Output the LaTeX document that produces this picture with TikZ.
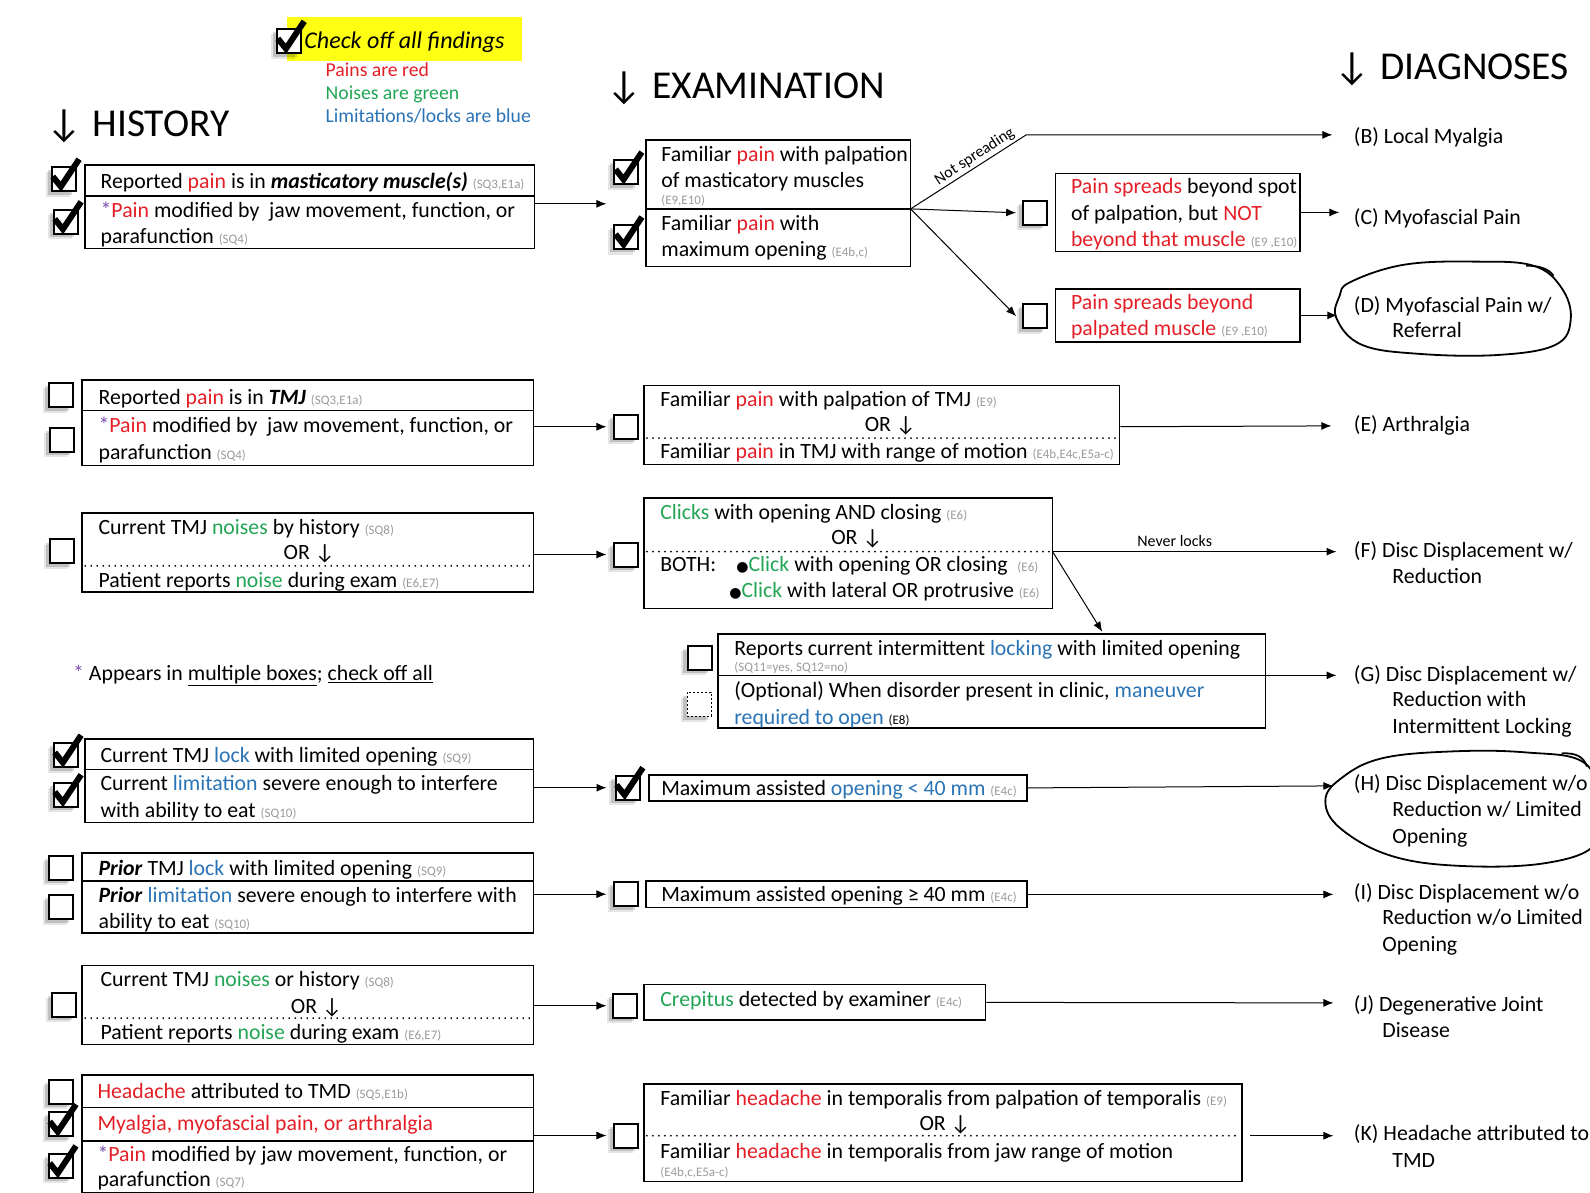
\documentclass[tikz,border=0pt]{standalone}
\usepackage{fontspec}
\setmainfont{Carlito}
\newfontfamily\dvf{DejaVu Sans}
\usetikzlibrary{arrows.meta,fit,calc}
\definecolor{pr}{HTML}{E41E26}
\definecolor{gn}{HTML}{22A455}
\definecolor{lb}{HTML}{2A73B5}
\definecolor{pu}{HTML}{7B4FB0}
\definecolor{tg}{HTML}{9A9A9A}
\definecolor{yel}{HTML}{FFFF14}
\newcommand\RD[1]{\textcolor{pr}{#1}}
\newcommand\GR[1]{\textcolor{gn}{#1}}
\newcommand\BL[1]{\textcolor{lb}{#1}}
\newcommand\PU[1]{\textcolor{pu}{#1}}
\newcommand\TG[1]{{\fontsize{13}{14}\selectfont\textcolor{tg}{#1}}}
\newcommand\DA{{\fontsize{22}{22}\selectfont ↓}}
\newcommand\BU{{\dvf\fontsize{14}{14}\selectfont ●}}
\newcounter{tn}
\newcommand\T[4][]{\stepcounter{tn}\node[tx,#1] (t\arabic{tn}) at (#2,#3) {#4};}
\newcommand\CB[4][]{%
  \fill[black,opacity=.10] (#3-5,#4+6) rectangle (#3+19,#4+30);
  \fill[black,opacity=.16] (#3-3,#4+4) rectangle (#3+21,#4+28);
  \node[cbs,#1] (#2) at (#3,#4) {};}
\newcommand\CK[2]{\draw[ckm] (#1+2,#2+10) -- (#1+10,#2+20) -- (#1+28,#2-7);}
\begin{document}
\begin{tikzpicture}[x=1.014pt,y=-1.014pt,
  tx/.style={anchor=base west, inner sep=0pt, font=\fontsize{21.8}{26}\selectfont},
  txc/.style={tx, anchor=base},
  hd/.style={tx, font=\fontsize{39.5}{42}\selectfont},
  bx/.style={draw, line width=1.6pt, inner sep=0pt},
  cbs/.style={draw, line width=2pt, fill=white, minimum size=24pt, inner sep=0pt, anchor=north west},
  ckm/.style={line width=6pt, line join=miter, black},
  arr/.style={line width=1pt, -{Latex[length=10pt,width=8pt]}},
  dv/.style={line width=2pt, dash pattern=on 0pt off 6pt, line cap=round},
  hand/.style={line width=1.8pt}]
\useasboundingbox (0,0) rectangle (1568,1176);

% ---------- legend ----------
\fill[yel] (283,17) rectangle (515,60);
\CB{cl}{272}{28}\CK{272}{28}
\T[font=\fontsize{24}{28}\selectfont\itshape]{300}{48}{Check off all findings}
\T[font=\fontsize{19.7}{22}\selectfont,text=pr]{321}{75}{Pains are red}
\T[font=\fontsize{19.7}{22}\selectfont,text=gn]{321}{98}{Noises are green}
\T[font=\fontsize{19.7}{22}\selectfont,text=lb]{321}{121}{Limitations/locks are blue}

% ---------- headings ----------
\node[hd] (hH) at (46,135) {↓\hspace{0.25em}HISTORY};
\node[hd] (hE) at (598,97) {↓\hspace{0.25em}EXAMINATION};
\node[hd] (hD) at (1316,78) {↓\hspace{0.25em}DIAGNOSES};

% ---------- history boxes ----------
\node[bx, fit={(84,163)(527,245)}] (h1) {};
\draw[line width=1.6pt] (84,193) -- (527,193);
\CB{c11}{50}{164}\CK{50}{164}
\CB{c12}{52}{206}\CK{52}{206}
\T{99}{186}{Reported \RD{pain} is in \textbf{\textit{masticatory muscle(s)}} \TG{(SQ3,E1a)}}
\T{99}{214}{\PU{*}\RD{Pain} modified by\ \ jaw movement, function, or}
\T{99}{240}{parafunction \TG{(SQ4)}}

\node[bx, fit={(81,375)(526,459)}] (h2) {};
\draw[line width=1.6pt] (81,405) -- (526,405);
\CB{c21}{47}{377}
\CB{c22}{48}{421}
\T{97}{399}{Reported \RD{pain} is in \textbf{\textit{TMJ}} \TG{(SQ3,E1a)}}
\T{97}{427}{\PU{*}\RD{Pain} modified by\ \ jaw movement, function, or}
\T{97}{453}{parafunction \TG{(SQ4)}}

\node[bx, fit={(81,506)(526,584)}] (h3) {};
\draw[dv] (84,558) -- (524,558);
\CB{c31}{48}{531}
\T{97}{527}{Current TMJ \GR{noises} by history \TG{(SQ8)}}
\T[txc]{305}{552}{OR \DA}
\T{97}{579}{Patient reports \GR{noise} during exam \TG{(E6,E7)}}

\node[tx] (star) at (72,671) {\PU{*} Appears in \underline{multiple boxes}; \underline{check off all}};

\node[bx, fit={(84,729)(526,811)}] (h4) {};
\draw[line width=1.6pt] (84,759) -- (526,759);
\CB{c41}{52}{732}\CK{52}{732}
\CB{c42}{52}{771}\CK{52}{771}
\T{99}{752}{Current TMJ \BL{lock} with limited opening \TG{(SQ9)}}
\T{99}{780}{Current \BL{limitation} severe enough to interfere}
\T{99}{806}{with ability to eat \TG{(SQ10)}}

\node[bx, fit={(81,841)(526,920)}] (h5) {};
\draw[line width=1.6pt] (81,869) -- (526,869);
\CB{c51}{47}{843}
\CB{c52}{47}{882}
\T{97}{863}{\textbf{\textit{Prior}} TMJ \BL{lock} with limited opening \TG{(SQ9)}}
\T{97}{890}{\textbf{\textit{Prior}} \BL{limitation} severe enough to interfere with}
\T{97}{916}{ability to eat \TG{(SQ10)}}

\node[bx, fit={(81,952)(526,1030)}] (h6) {};
\draw[dv] (84,1004) -- (524,1004);
\CB{c61}{50}{978}
\T{99}{973}{Current TMJ \GR{noises} or history \TG{(SQ8)}}
\T[txc]{312}{999}{OR \DA}
\T{99}{1025}{Patient reports \GR{noise} during exam \TG{(E6,E7)}}

\node[bx, fit={(81,1060)(526,1176)}] (h7) {};
\draw[line width=1.6pt] (81,1092) -- (526,1092);
\draw[line width=1.6pt] (81,1125) -- (526,1125);
\CB{c71}{47}{1064}
\CB{c72}{47}{1096}\CK{47}{1096}
\CB{c73}{47}{1137}\CK{47}{1137}
\T{96}{1083}{\RD{Headache} attributed to TMD \TG{(SQ5,E1b)}}
\T{96}{1115}{\RD{Myalgia, myofascial pain, or arthralgia}}
\T{96}{1145}{\PU{*}\RD{Pain} modified by jaw movement, function, or}
\T{96}{1170}{parafunction \TG{(SQ7)}}

% ---------- examination boxes ----------
\node[bx, fit={(637,138)(898,263)}] (e1) {};
\draw[line width=1.6pt] (637,206) -- (898,206);
\CB{d11}{605}{157}\CK{605}{157}
\CB{d12}{605}{221}\CK{605}{221}
\T{652}{159}{Familiar \RD{pain} with palpation}
\T{652}{185}{of masticatory muscles}
\T{652}{202}{\TG{(E9,E10)}}
\T{652}{227}{Familiar \RD{pain} with}
\T{652}{253}{maximum opening \TG{(E4b,c)}}

\node[bx, fit={(1041,171)(1282,248)}] (bc) {};
\CB{dc}{1008}{197}
\T{1056}{191}{\RD{Pain spreads} beyond spot}
\T{1056}{217}{of palpation, but \RD{NOT}}
\T{1056}{243}{\RD{beyond that muscle} \TG{(E9 ,E10)}}

\node[bx, fit={(1041,285)(1282,337)}] (bd) {};
\CB{dd}{1008}{299}
\T{1056}{305}{\RD{Pain spreads beyond}}
\T{1056}{331}{\RD{palpated muscle} \TG{(E9 ,E10)}}

\node[bx, fit={(635,380)(1104,458)}] (e2) {};
\draw[dv] (638,432) -- (1101,432);
\CB{d21}{605}{408}
\T{651}{401}{Familiar \RD{pain} with palpation of TMJ \TG{(E9)}}
\T[txc]{878}{426}{OR \DA}
\T{651}{452}{Familiar \RD{pain} in TMJ with range of motion \TG{(E4b,E4c,E5a-c)}}

\node[bx, fit={(635,491)(1038,600)}] (e3) {};
\draw[dv] (638,544) -- (1035,544);
\CB{d31}{605}{534}
\T{651}{512}{\GR{Clicks} with opening AND closing \TG{(E6)}}
\T[txc]{845}{537}{OR \DA}
\T{651}{564}{BOTH:}
\T{726}{564}{\BU\GR{Click} with opening OR closing\ \ \TG{(E6)}}
\T{719}{589}{\BU\GR{Click} with lateral OR protrusive \TG{(E6)}}

\node[bx, fit={(708,625)(1248,718)}] (eg) {};
\draw[line width=1.6pt] (708,666) -- (1248,666);
\CB{dg1}{677}{636}
\CB[dotted,line width=1.6pt]{dg2}{677}{682}
\T{724}{646}{Reports current intermittent \BL{locking} with limited opening}
\T{724}{662}{\TG{(SQ11=yes, SQ12=no)}}
\T{724}{688}{(Optional) When disorder present in clinic, \BL{maneuver}}
\T{724}{714}{\BL{required to open} {\fontsize{13}{14}\selectfont (E8)}}

\node[bx, fit={(640,764)(1013,790)}] (e4) {};
\CB{d41}{606}{764}\CK{606}{764}
\T{652}{784}{Maximum assisted \BL{opening < 40 mm} \TG{(E4c)}}

\node[bx, fit={(637,869)(1013,895)}] (e5) {};
\CB{d51}{605}{869}
\T{652}{889}{Maximum assisted opening ≥ 40 mm \TG{(E4c)}}

\node[bx, fit={(635,971)(972,1006)}] (e6) {};
\CB{d61}{604}{979}
\T{651}{993}{\GR{Crepitus} detected by examiner \TG{(E4c)}}

\node[bx, fit={(635,1069)(1225,1165)}] (e7) {};
\draw[dv] (638,1120) -- (1222,1120);
\CB{d71}{605}{1107}
\T{651}{1090}{Familiar \RD{headache} in temporalis from palpation of temporalis \TG{(E9)}}
\T[txc]{932}{1115}{OR \DA}
\T{651}{1142}{Familiar \RD{headache} in temporalis from jaw range of motion}
\T{651}{1160}{\TG{(E4b,c,E5a-c)}}

% ---------- diagnoses ----------
\T{1335}{142}{(B) Local Myalgia}
\T{1335}{221}{(C) Myofascial Pain}
\T{1335}{308}{(D) Myofascial Pain w/}
\T{1373}{333}{Referral}
\T{1335}{426}{(E) Arthralgia}
\T{1335}{550}{(F) Disc Displacement w/}
\T{1373}{575}{Reduction}
\T{1335}{672}{(G) Disc Displacement w/}
\T{1373}{697}{Reduction with}
\T{1373}{723}{Intermittent Locking}
\T{1335}{780}{(H) Disc Displacement w/o}
\T{1373}{805}{Reduction w/ Limited}
\T{1373}{832}{Opening}
\T{1335}{887}{(I) Disc Displacement w/o}
\T{1363}{912}{Reduction w/o Limited}
\T{1363}{938}{Opening}
\T{1335}{997}{(J) Degenerative Joint}
\T{1363}{1023}{Disease}
\T{1335}{1125}{(K) Headache attributed to}
\T{1373}{1151}{TMD}

% hand-drawn circles
\draw[hand] plot[smooth cycle, tension=0.65] coordinates {(1332,278) (1385,261) (1455,258) (1512,262) (1540,284) (1549,315) (1534,340) (1478,350) (1400,349) (1343,340) (1318,314) (1321,292)};
\draw[hand] (1505,262) .. controls (1520,262) and (1528,266) .. (1532,272);
\draw[hand] plot[smooth cycle, tension=0.65] coordinates {(1322,768) (1362,748) (1432,741) (1505,742) (1562,752) (1578,792) (1574,832) (1525,851) (1442,854) (1372,844) (1322,817) (1307,790)};
\draw[hand] (1540,743) .. controls (1555,742) and (1562,747) .. (1565,756);

% ---------- connectors ----------
\coordinate (a1) at (598,201);
\coordinate (x1) at (898,206);
\coordinate (k1) at (1012,133);
\coordinate (x3) at (1038,544);
\coordinate (g1) at (1248,666);
\coordinate (x7) at (1233,1120);
\draw[arr] (h1.east |- a1) -- (a1);
\draw[arr] (x1) -- (k1) -- (1314,133);
\node[font=\fontsize{16}{16}\selectfont, rotate=33, anchor=south, inner sep=2pt] (ns) at (966,162) {Not spreading};
\draw[arr] (x1) -- ([xshift=-6pt]dc.west);
\draw[arr] (x1) -- ([xshift=-6pt]dd.west);
\draw[arr] (bc.east) -- ++(38,0);
\draw[arr] (bd.east) -- ++(36,0);
\draw[arr] (h2.east |- d21.west) -- ([xshift=-7pt]d21.west);
\draw[arr] (e2.east |- d21.west) -- (1313,420);
\draw[arr] (h3.east |- d31.west) -- ([xshift=-7pt]d31.west);
\draw[arr] (x3) -- (1318,544) node[pos=0.43, above=1pt, font=\fontsize{16}{16}\selectfont, text=black] (nl) {Never locks};
\draw[arr] (x3) -- (1087,623);
\draw[arr] (g1) -- (1318,666);
\draw[arr] (h4.east |- d41.west) -- ([xshift=-8pt]d41.west);
\draw[arr] (e4.east) -- (1315,775);
\draw[arr] (h5.east |- d51.west) -- ([xshift=-7pt]d51.west);
\draw[arr] (e5.east) -- (1315,882);
\draw[arr] (h6.east |- d61.west) -- ([xshift=-6pt]d61.west);
\draw[arr] (e6.east) -- (1315,989);
\draw[arr] (h7.east |- d71.west) -- ([xshift=-7pt]d71.west);
\draw[arr] (x7) -- (1315,1120);
\end{tikzpicture}
\end{document}
